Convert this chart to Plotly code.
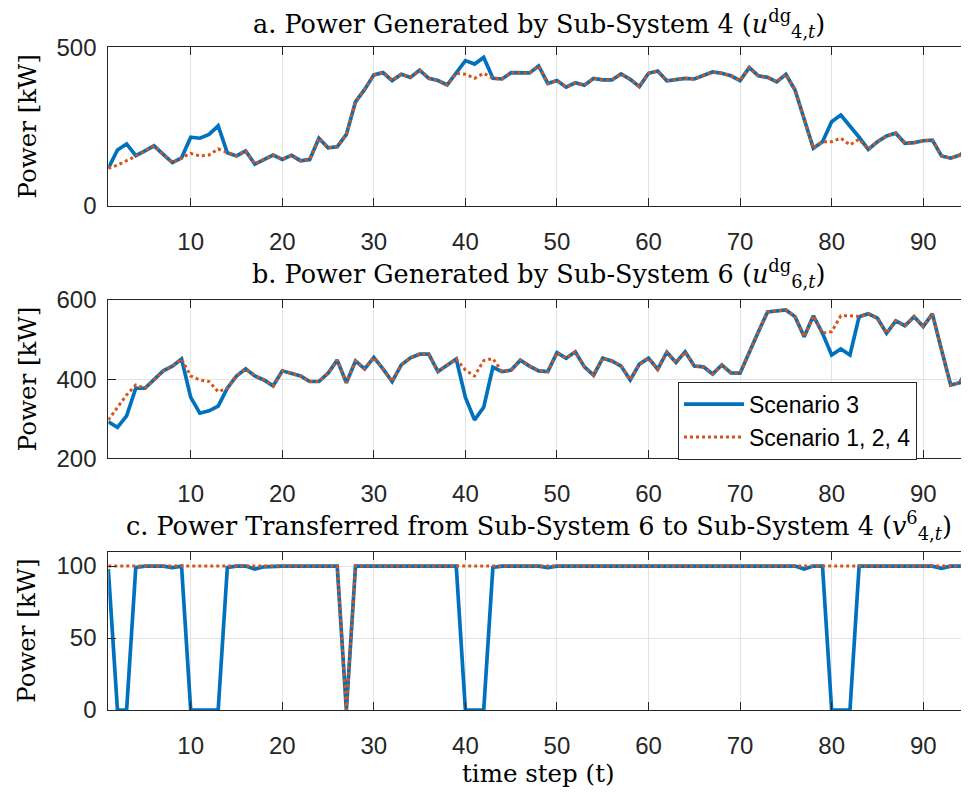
import plotly.graph_objects as go

t = list(range(1, 96))

# Panel a: power generated by sub-system 4 [kW]
a_s3 = [118, 176, 195, 158, 173, 189, 162, 136, 151, 216, 213, 225, 252, 167, 157, 173, 131, 146, 160, 146,
        159, 142, 146, 213, 183, 186, 225, 328, 367, 413, 420, 395, 415, 405, 428, 402, 395, 381, 418, 458,
        447, 468, 402, 400, 420, 419, 419, 441, 386, 395, 374, 388, 380, 402, 397, 397, 416, 399, 376, 418,
        425, 394, 399, 402, 400, 410, 422, 418, 410, 395, 436, 410, 405, 391, 415, 365, 271, 181, 202, 265,
        286, 252, 216, 178, 202, 220, 229, 197, 199, 205, 207, 157, 150, 160, 178]
a_s124 = [118, 128, 142, 156, 173, 189, 162, 136, 151, 165, 157, 160, 179, 167, 157, 173, 131, 146, 160, 146,
          159, 142, 146, 213, 183, 186, 225, 328, 367, 413, 420, 395, 415, 405, 428, 402, 395, 381, 418, 415,
          402, 418, 402, 400, 420, 419, 419, 441, 386, 395, 374, 388, 380, 402, 397, 397, 416, 399, 376, 418,
          425, 394, 399, 402, 400, 410, 422, 418, 410, 395, 436, 410, 405, 391, 415, 365, 271, 181, 202, 202,
          213, 192, 210, 178, 202, 220, 229, 197, 199, 205, 207, 157, 150, 160, 178]

# Panel b: power generated by sub-system 6 [kW]
b_s3 = [292, 278, 307, 377, 377, 398, 421, 433, 451, 354, 314, 320, 332, 377, 408, 426, 408, 398, 383, 421,
        415, 408, 394, 394, 415, 448, 391, 446, 426, 455, 426, 394, 436, 454, 463, 463, 419, 436, 451, 354,
        297, 329, 430, 419, 423, 448, 433, 421, 419, 467, 453, 469, 431, 410, 453, 446, 433, 398, 438, 453,
        425, 468, 442, 469, 433, 431, 413, 436, 416, 415, 469, 520, 570, 572, 575, 558, 507, 560, 516, 461,
        476, 461, 558, 565, 554, 516, 547, 535, 558, 533, 565, 474, 385, 391, 433]
b_s124 = [297, 330, 360, 385, 377, 398, 421, 433, 451, 408, 398, 394, 368, 377, 408, 426, 408, 398, 383, 421,
          415, 408, 394, 394, 415, 448, 391, 446, 426, 455, 426, 394, 436, 454, 463, 463, 419, 436, 451, 423,
          408, 447, 452, 419, 423, 448, 433, 421, 419, 467, 453, 469, 431, 410, 453, 446, 433, 398, 438, 453,
          425, 468, 442, 469, 433, 431, 413, 436, 416, 415, 469, 520, 570, 572, 575, 558, 507, 560, 516, 520,
          560, 560, 558, 565, 554, 516, 547, 535, 558, 533, 565, 474, 385, 391, 433]

# Panel c: power transferred from sub-system 6 to sub-system 4 [kW]
c_s3 = [98, 0, 0, 99, 100, 100, 100, 99, 100, 0, 0, 0, 0, 99, 100, 100, 98, 99.5, 100, 100,
        100, 100, 100, 100, 100, 100, 0, 100, 100, 100, 100, 100, 100, 100, 100, 100, 100, 100, 100, 0,
        0, 0, 99, 100, 100, 100, 100, 100, 99, 100, 100, 100, 100, 100, 100, 100, 100, 100, 100, 100,
        100, 100, 100, 100, 100, 100, 100, 100, 100, 100, 100, 100, 100, 100, 100, 100, 98, 100, 100, 0,
        0, 0, 100, 100, 100, 100, 100, 100, 100, 100, 100, 98.5, 100, 100, 100]
c_s124 = [100, 100, 100, 100, 100, 100, 100, 100, 100, 100, 100, 100, 100, 100, 100, 100, 100, 100, 100, 100,
          100, 100, 100, 100, 100, 100, 0, 100, 100, 100, 100, 100, 100, 100, 100, 100, 100, 100, 100, 100,
          100, 100, 100, 100, 100, 100, 100, 100, 100, 100, 100, 100, 100, 100, 100, 100, 100, 100, 100, 100,
          100, 100, 100, 100, 100, 100, 100, 100, 100, 100, 100, 100, 100, 100, 100, 100, 100, 100, 100, 100,
          100, 100, 100, 100, 100, 100, 100, 100, 100, 100, 100, 100, 100, 100, 100]

x_ticks = [10, 20, 30, 40, 50, 60, 70, 80, 90]
yticks_a = [0, 500]
yticks_b = [200, 400, 600]
yticks_c = [0, 50, 100]

BLUE = "#0072BD"
ORANGE = "#D95319"
AXC = "#262626"
GRID = "#e3e3e3"
SANS = "Liberation Sans, Arial, sans-serif"
SERIF = "DejaVu Serif, Liberation Serif, serif"

W, H = 969, 794
OFF = 8  # page body offset of the figure

fig = go.Figure()
panels = [(a_s3, a_s124, ""), (b_s3, b_s124, "2"), (c_s3, c_s124, "3")]
for i, (s3, s124, k) in enumerate(panels):
    fig.add_trace(go.Scatter(x=t, y=s3, mode="lines", name="Scenario 3",
                             line=dict(color=BLUE, width=3.7), xaxis="x" + k, yaxis="y" + k,
                             showlegend=(i == 1)))
    fig.add_trace(go.Scatter(x=t, y=s124, mode="lines", name="Scenario 1, 2, 4",
                             line=dict(color=ORANGE, width=3, dash="dot"), xaxis="x" + k, yaxis="y" + k,
                             showlegend=(i == 1)))

def px_x(x):
    return (x - OFF) / W

def px_y(y):
    return 1 - (y - OFF) / H

xdom = [px_x(108.3), px_x(969)]
boxes = [(47.3, 205.7), (300.0, 458.3), (551.7, 710.0)]
ydoms = [[px_y(b), px_y(a)] for a, b in boxes]
yranges = [[0, 500], [200, 600], [0, 110]]
yticks = [yticks_a, yticks_b, yticks_c]

common_x = dict(range=[1, 95], tickvals=x_ticks, ticks="inside", ticklen=8, tickcolor=AXC,
                showline=True, linecolor=AXC, linewidth=1, mirror="ticks", showgrid=True,
                gridcolor=GRID, gridwidth=1, zeroline=False, automargin=False,
                tickfont=dict(family=SANS, size=24, color=AXC), ticklabelstandoff=14)
common_y = dict(ticks="inside", ticklen=8, tickcolor=AXC, showline=True, linecolor=AXC, linewidth=1,
                mirror="ticks", showgrid=True, gridcolor=GRID, gridwidth=1, zeroline=False, automargin=False,
                tickfont=dict(family=SANS, size=24, color=AXC), ticklabelstandoff=6)

layout = dict(width=W, height=H, margin=dict(l=0, r=0, t=0, b=0, autoexpand=False),
              paper_bgcolor="white", plot_bgcolor="white", showlegend=True,
              legend=dict(x=px_x(678), y=px_y(381.7), xanchor="left", yanchor="top",
                          bgcolor="white", bordercolor=AXC, borderwidth=1, itemwidth=60,
                          font=dict(family=SANS, size=23, color="black"),
                          tracegroupgap=0))
for i, k in enumerate(["", "2", "3"]):
    layout["xaxis" + k] = dict(common_x, domain=xdom, anchor="y" + k)
    layout["yaxis" + k] = dict(common_y, domain=ydoms[i], range=yranges[i], tickvals=yticks[i],
                               anchor="x" + k)
fig.update_layout(**layout)

titles = [
    ("a. Power Generated by Sub-System 4 (<i>u</i><sup>dg</sup><sub>4,<i>t</i></sub>)", 23),
    ("b. Power Generated by Sub-System 6 (<i>u</i><sup>dg</sup><sub>6,<i>t</i></sub>)", 273),
    ("c. Power Transferred from Sub-System 6 to Sub-System 4 (<i>v</i><sup>6</sup><sub>4,<i>t</i></sub>)", 525),
]
cx = px_x((108.3 + 969) / 2)
for txt, ypos in titles:
    fig.add_annotation(text=txt, x=cx, y=px_y(ypos), xref="paper", yref="paper",
                       xanchor="center", yanchor="middle", showarrow=False,
                       font=dict(family=SERIF, size=25.5, color="black"))

for top, bot in boxes:
    fig.add_annotation(text="Power [kW]", x=px_x(27), y=px_y((top + bot) / 2), xref="paper", yref="paper",
                       xanchor="center", yanchor="middle", textangle=-90, showarrow=False,
                       font=dict(family=SERIF, size=24.5, color="black"))

fig.add_annotation(text="time step (t)", x=cx, y=px_y(773), xref="paper", yref="paper",
                   xanchor="center", yanchor="middle", showarrow=False,
                   font=dict(family=SERIF, size=24.5, color="black"))

fig.write_html("out.html")
